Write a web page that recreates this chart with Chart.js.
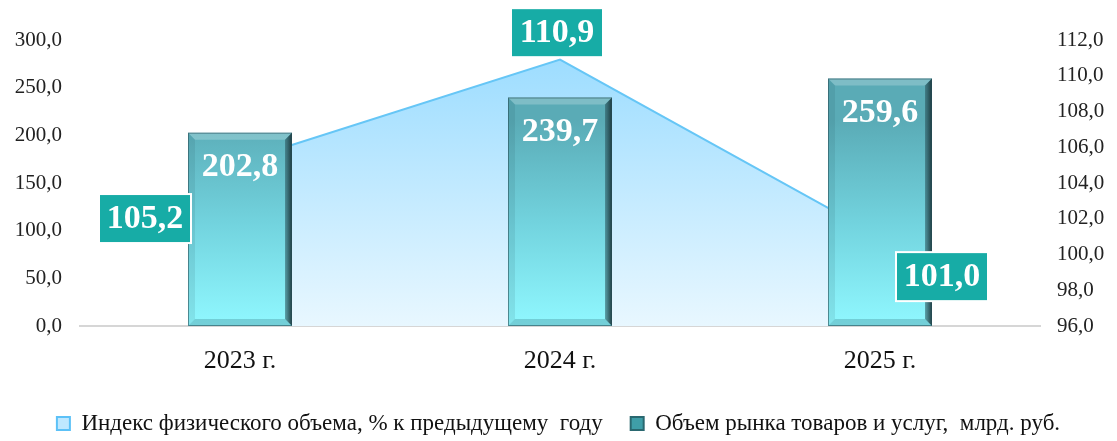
<!DOCTYPE html>
<html><head><meta charset="utf-8">
<script src="https://cdn.jsdelivr.net/npm/chart.js@4/dist/chart.umd.min.js"></script>
<style>html,body{margin:0;padding:0;background:#fff}#wrap{width:1117px;height:441px}</style>
</head><body><div id="wrap"><canvas id="c" width="1117" height="441"></canvas></div>
<script>
const categories = ['2023 г.', '2024 г.', '2025 г.'];
const marketVolume = [202.8, 239.7, 259.6];
const volumeIndex = [105.2, 110.9, 101.0];
const seriesNames = ['Индекс физического объема, % к предыдущему  году', 'Объем рынка товаров и услуг,  млрд. руб.'];
const leftAxis = {min: 0, max: 300, step: 50};
const rightAxis = {min: 96, max: 112, step: 2};

const SERIF = '"Liberation Serif", "Times New Roman", serif';
const fmt = v => Number(v).toFixed(1).replace('.', ',');

function areaGradient(ctx) {
  const ca = ctx.chart.chartArea;
  if (!ca) return '#c8ecff';
  const g = ctx.chart.ctx.createLinearGradient(0, ca.top, 0, ca.bottom);
  g.addColorStop(0, '#98dbff');
  g.addColorStop(1, '#e8f7ff');
  return g;
}
function barGradient(ctx) {
  const ca = ctx.chart.chartArea;
  if (!ca) return '#6cc9d3';
  const g = ctx.chart.ctx.createLinearGradient(0, ca.top + 80, 0, ca.bottom);
  g.addColorStop(0, '#5aabb6');
  g.addColorStop(0.5, '#72d3de');
  g.addColorStop(1, '#90f8ff');
  return g;
}

const bevelPlugin = {
  id: 'bevel',
  afterDatasetDraw(chart, args) {
    if (chart.data.datasets[args.index].type !== 'bar') return;
    const c = chart.ctx;
    args.meta.data.forEach(el => {
      const p = el.getProps(['x', 'y', 'base', 'width'], true);
      const l = p.x - p.width / 2, r = p.x + p.width / 2, t = p.y, bo = p.base, b = 7;
      const poly = (pts, fill) => {
        c.beginPath(); c.moveTo(pts[0][0], pts[0][1]);
        for (let i = 1; i < pts.length; i++) c.lineTo(pts[i][0], pts[i][1]);
        c.closePath(); c.fillStyle = fill; c.fill();
      };
      c.save();
      poly([[l, t], [r, t], [r - b, t + b], [l + b, t + b]], 'rgba(255,255,255,0.22)');
      poly([[l, t], [l + b, t + b], [l + b, bo - b], [l, bo]], 'rgba(20,60,70,0.10)');
      const gr = c.createLinearGradient(r - b, 0, r, 0);
      gr.addColorStop(0, 'rgba(40,80,88,0.5)');
      gr.addColorStop(1, 'rgba(25,50,55,0.95)');
      poly([[r, t], [r, bo], [r - b, bo - b], [r - b, t + b]], gr);
      poly([[l, bo], [r, bo], [r - b, bo - b], [l + b, bo - b]], 'rgba(20,70,80,0.22)');
      c.strokeStyle = 'rgba(40,80,88,0.6)'; c.lineWidth = 1;
      c.strokeRect(l + 0.5, t + 0.5, p.width - 1, bo - t - 1);
      c.restore();
    });
  }
};

const labelPlugin = {
  id: 'valueLabels',
  afterDatasetsDraw(chart, args, opts) {
    const c = chart.ctx;
    c.save();
    c.font = 'bold 34px ' + SERIF;
    c.textAlign = 'center';
    c.textBaseline = 'middle';
    chart.data.datasets.forEach((ds, di) => {
      const meta = chart.getDatasetMeta(di);
      meta.data.forEach((el, i) => {
        const txt = fmt(ds.data[i]);
        if (ds.type === 'bar') {
          c.fillStyle = '#ffffff';
          c.fillText(txt, el.x, el.y + opts.barTextOffset);
        } else {
          const o = opts.boxOffsets[i];
          const cx = el.x + o.dx, cy = el.y + o.dy;
          const w = opts.boxW, h = opts.boxH;
          c.fillStyle = '#17aca6';
          c.fillRect(cx - w / 2, cy - h / 2, w, h);
          c.strokeStyle = '#ffffff'; c.lineWidth = 2;
          c.strokeRect(cx - w / 2, cy - h / 2, w, h);
          c.fillStyle = '#ffffff';
          c.fillText(txt, cx, cy + 1);
        }
      });
    });
    c.restore();
  }
};

new Chart(document.getElementById('c'), {
  data: {
    labels: categories,
    datasets: [
      {
        type: 'line', label: seriesNames[0], data: volumeIndex, yAxisID: 'y1',
        borderColor: '#66c6f6', borderWidth: 2, pointRadius: 0, tension: 0,
        fill: 'start', backgroundColor: areaGradient, order: 2
      },
      {
        type: 'bar', label: seriesNames[1], data: marketVolume, yAxisID: 'y',
        backgroundColor: barGradient, borderWidth: 0,
        barPercentage: 0.65, categoryPercentage: 0.5, order: 1
      }
    ]
  },
  options: {
    responsive: false, animation: false, devicePixelRatio: 1,
    layout: {padding: {top: 40, left: 0, right: 0, bottom: -4}},
    scales: {
      x: {
        grid: {display: false, drawTicks: false},
        border: {display: true, color: '#d6d6d6', width: 2},
        ticks: {font: {family: SERIF, size: 26}, color: '#111', padding: 20},
        afterFit(s) { s.height = 58; }
      },
      y: {
        position: 'left', min: leftAxis.min, max: leftAxis.max,
        grid: {display: false, drawTicks: false}, border: {display: false},
        ticks: {stepSize: leftAxis.step, callback: v => fmt(v), font: {family: SERIF, size: 21}, color: '#222', padding: 18},
        afterFit(s) { s.width = 80; }
      },
      y1: {
        position: 'right', min: rightAxis.min, max: rightAxis.max,
        grid: {display: false, drawTicks: false}, border: {display: false},
        ticks: {stepSize: rightAxis.step, callback: v => fmt(v), font: {family: SERIF, size: 21}, color: '#222', padding: 17},
        afterFit(s) { s.width = 77; }
      }
    },
    plugins: {
      tooltip: {enabled: false},
      legend: {
        position: 'bottom',
        labels: {
          font: {family: SERIF, size: 23}, color: '#111', boxWidth: 13, boxHeight: 13, padding: 28,
          generateLabels: chart => chart.data.datasets.map((ds, i) => ({
            text: ds.label, datasetIndex: i, hidden: false, fontColor: '#111',
            fillStyle: i === 0 ? '#bfe8ff' : '#3f9ea8',
            strokeStyle: i === 0 ? '#5cc1f7' : '#2a6870', lineWidth: 2
          }))
        }
      },
      valueLabels: {
        barTextOffset: 35, boxW: 92, boxH: 49,
        boxOffsets: [{dx: -95, dy: 57}, {dx: -3, dy: -27}, {dx: 62, dy: 40}]
      }
    }
  },
  plugins: [bevelPlugin, labelPlugin]
});
</script>
</body></html>
